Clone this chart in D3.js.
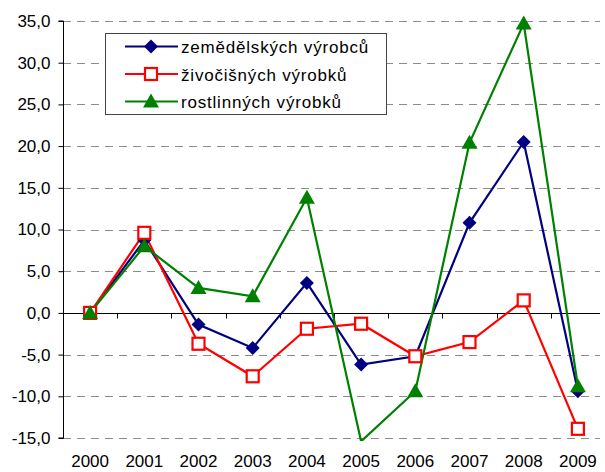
<!DOCTYPE html>
<html>
<head>
<meta charset="utf-8">
<script src="https://cdn.jsdelivr.net/npm/d3@7"></script>
<style>
  body { margin: 0; background: #fff; }
  text { font-family: "Liberation Sans", Arial, sans-serif; }
</style>
</head>
<body>
<div id="chart"></div>
<script>
const years = ['2000', '2001', '2002', '2003', '2004', '2005', '2006', '2007', '2008', '2009'];
const zemedelskych = [0, 8.7, -1.4, -4.2, 3.6, -6.2, -5.2, 10.8, 20.5, -9.4];
const zivocisnych = [0, 9.6, -3.7, -7.6, -1.9, -1.3, -5.2, -3.5, 1.5, -13.9];
const rostlinnych = [0, 8.0, 3.0, 2.0, 13.8, -15.4, -9.4, 20.4, 34.7, -8.8];
const yTicks = [-15, -10, -5, 0, 5, 10, 15, 20, 25, 30, 35];

const series = [
  {name: 'zemědělských výrobců', values: zemedelskych, color: '#000080', marker: 'diamond'},
  {name: 'živočišných výrobků', values: zivocisnych, color: '#FF0000', marker: 'square'},
  {name: 'rostlinných výrobků', values: rostlinnych, color: '#008000', marker: 'triangle'}
];

const width = 605, height = 472;
const margin = {top: 21, right: 0, bottom: 34, left: 63};
const plotBottom = 438;

const svg = d3.select('#chart').append('svg')
  .attr('width', width)
  .attr('height', height);

const x = d3.scaleBand()
  .domain(years)
  .range([margin.left, width - margin.right]);

const y = d3.scaleLinear()
  .domain([-15, 35])
  .range([plotBottom, margin.top]);

// gridlines
svg.append('g')
  .selectAll('line')
  .data(yTicks.filter(d => d !== 0))
  .join('line')
  .attr('x1', margin.left)
  .attr('x2', width - 5)
  .attr('y1', d => Math.round(y(d)) + 0.5)
  .attr('y2', d => Math.round(y(d)) + 0.5)
  .attr('stroke', '#8c8c8c')
  .attr('stroke-width', 1)
  .attr('stroke-dasharray', '8,6');

// y axis
const yAxis = d3.axisLeft(y)
  .tickValues(yTicks)
  .tickSize(5)
  .tickFormat(d => d3.format('.1f')(d).replace('.', ',').replace('−', '-'));

svg.append('g')
  .attr('transform', `translate(${margin.left + 0.5},0)`)
  .call(yAxis)
  .call(g => g.selectAll('.tick line').attr('stroke', '#000'))
  .call(g => g.select('.domain').attr('stroke', '#000').attr('d', `M-5,${y(35)}H0V${y(-15)}H-5`))
  .call(g => g.selectAll('.tick text')
    .attr('x', -13)
    .attr('font-size', 17)
    .attr('fill', '#000')
    .attr('font-family', '"Liberation Sans", Arial, sans-serif'));

// zero line with category ticks
const zeroY = Math.round(y(0)) + 0.5;
svg.append('line')
  .attr('x1', margin.left)
  .attr('x2', width - 5)
  .attr('y1', zeroY)
  .attr('y2', zeroY)
  .attr('stroke', '#000');

svg.append('g')
  .selectAll('line')
  .data(years.slice(1))
  .join('line')
  .attr('x1', d => Math.round(x(d)) + 0.5)
  .attr('x2', d => Math.round(x(d)) + 0.5)
  .attr('y1', zeroY)
  .attr('y2', zeroY + 5)
  .attr('stroke', '#000');

// x labels
svg.append('g')
  .selectAll('text')
  .data(years)
  .join('text')
  .attr('x', d => x(d) + x.bandwidth() / 2)
  .attr('y', 467)
  .attr('text-anchor', 'middle')
  .attr('font-size', 17)
  .text(d => d);

// clip to plot area
svg.append('defs').append('clipPath')
  .attr('id', 'plot-clip')
  .append('rect')
  .attr('x', margin.left)
  .attr('y', 0)
  .attr('width', width - margin.left)
  .attr('height', plotBottom + 3);

const line = d3.line()
  .x((d, i) => x(years[i]) + x.bandwidth() / 2)
  .y(d => y(d));

const plot = svg.append('g').attr('clip-path', 'url(#plot-clip)');

function drawMarker(g, type, color, cx, cy) {
  if (type === 'diamond') {
    g.append('path')
      .attr('d', `M${cx},${cy - 7}L${cx + 7},${cy}L${cx},${cy + 7}L${cx - 7},${cy}Z`)
      .attr('fill', color);
  } else if (type === 'square') {
    g.append('rect')
      .attr('x', cx - 6)
      .attr('y', cy - 6)
      .attr('width', 12)
      .attr('height', 12)
      .attr('fill', '#fff')
      .attr('stroke', color)
      .attr('stroke-width', 2.2);
  } else {
    g.append('path')
      .attr('d', `M${cx},${cy - 8}L${cx + 8},${cy + 6}L${cx - 8},${cy + 6}Z`)
      .attr('fill', color);
  }
}

series.forEach(s => {
  plot.append('path')
    .datum(s.values)
    .attr('d', line)
    .attr('fill', 'none')
    .attr('stroke', s.color)
    .attr('stroke-width', 2.2);
});

series.forEach(s => {
  const g = plot.append('g');
  s.values.forEach((v, i) => {
    if (v < -15 || v > 35) return;
    drawMarker(g, s.marker, s.color, x(years[i]) + x.bandwidth() / 2, y(v));
  });
});

// legend
const legend = svg.append('g');
legend.append('rect')
  .attr('x', 105.5)
  .attr('y', 33.5)
  .attr('width', 281)
  .attr('height', 81)
  .attr('fill', '#fff')
  .attr('stroke', '#444')
  .attr('stroke-width', 1);

series.forEach((s, i) => {
  const ly = 46.5 + i * 27.5;
  legend.append('line')
    .attr('x1', 125)
    .attr('x2', 178)
    .attr('y1', ly)
    .attr('y2', ly)
    .attr('stroke', s.color)
    .attr('stroke-width', 2.2);
  drawMarker(legend, s.marker, s.color, 151, ly);
  legend.append('text')
    .attr('x', 181)
    .attr('y', ly + 6.5)
    .attr('font-size', 17)
    .attr('letter-spacing', 0.8)
    .text(s.name);
});
</script>
</body>
</html>
